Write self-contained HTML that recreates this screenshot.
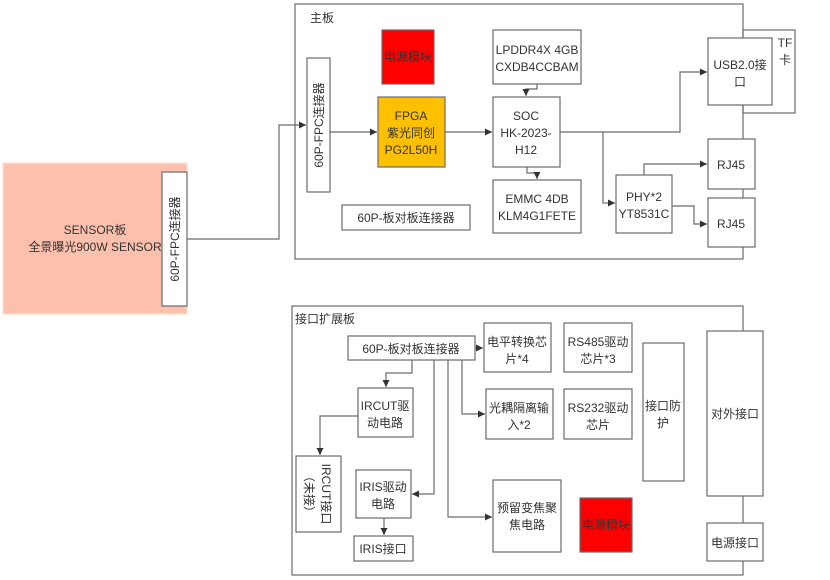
<!DOCTYPE html>
<html><head><meta charset="utf-8"><style>
html,body{margin:0;padding:0;background:#fff;width:830px;height:580px;overflow:hidden}
svg text{font-family:"Liberation Sans","Noto Sans CJK SC",sans-serif;font-size:12px;fill:#333}
</style></head><body>
<svg width="830" height="580" viewBox="0 0 830 580" xmlns="http://www.w3.org/2000/svg">
<defs><marker id="a" markerWidth="8" markerHeight="8" refX="7" refY="4" orient="auto" markerUnits="userSpaceOnUse"><path d="M0,0.5 L7,4 L0,7.5 z" fill="#333"/></marker></defs>
<g fill="none" stroke="#6b6b6b" stroke-width="1.2">
<!-- sensor -->
<rect x="3" y="163" width="184" height="151" fill="#fcc0ad" stroke="#fde0c8"/>
<rect x="162" y="172" width="25" height="134" fill="#fff"/>
<!-- main board -->
<rect x="295" y="4" width="448" height="255"/>
<rect x="743" y="30" width="52" height="83"/>
<rect x="708" y="38" width="64" height="67" fill="#fff"/>
<rect x="708" y="139" width="47" height="50" fill="#fff"/>
<rect x="708" y="198" width="47" height="49" fill="#fff"/>
<rect x="382" y="30" width="52" height="54" fill="#ff0000"/>
<rect x="378" y="97" width="67" height="70" fill="#ffc000"/>
<rect x="307" y="58" width="23" height="134" fill="#fff"/>
<rect x="493" y="97" width="67" height="70" fill="#fff"/>
<rect x="493" y="30" width="88" height="54" fill="#fff"/>
<rect x="493" y="180" width="88" height="53" fill="#fff"/>
<rect x="616" y="175" width="56" height="58" fill="#fff"/>
<rect x="342" y="205" width="128" height="25" fill="#fff"/>
<!-- lines main -->
<path d="M187,239 H279 V125 H306" marker-end="url(#a)"/>
<path d="M330,132 H377" marker-end="url(#a)"/>
<path d="M445,132 H492" marker-end="url(#a)"/>
<path d="M560,132 H680 V72 H707" marker-end="url(#a)"/>
<path d="M603,132 V203 H615" marker-end="url(#a)"/>
<path d="M644,175 V164 H707" marker-end="url(#a)"/>
<path d="M672,206 H694 V224 H707" marker-end="url(#a)"/>
<path d="M537,84 V89 H526 V96" marker-end="url(#a)"/>
<path d="M527,167 V173 H537 V179" marker-end="url(#a)"/>
<!-- bottom board -->
<rect x="292" y="306" width="451" height="269"/>
<rect x="348" y="336" width="127" height="24" fill="#fff"/>
<rect x="484" y="323" width="67" height="49" fill="#fff"/>
<rect x="564" y="323" width="68" height="49" fill="#fff"/>
<rect x="486" y="389" width="67" height="50" fill="#fff"/>
<rect x="564" y="389" width="68" height="50" fill="#fff"/>
<rect x="643" y="343" width="41" height="138" fill="#fff"/>
<rect x="707" y="331" width="56" height="165" fill="#fff"/>
<rect x="707" y="523" width="56" height="38" fill="#fff"/>
<rect x="358" y="388" width="55" height="49" fill="#fff"/>
<rect x="296" y="456" width="45" height="76" fill="#fff"/>
<rect x="356" y="470" width="55" height="48" fill="#fff"/>
<rect x="354" y="536" width="59" height="25" fill="#fff"/>
<rect x="493" y="480" width="68" height="72" fill="#fff"/>
<rect x="580" y="498" width="52" height="54" fill="#ff0000"/>
<path d="M475,348 H483" marker-end="url(#a)"/>
<path d="M412,360 V373 H386 V387" marker-end="url(#a)"/>
<path d="M434,360 V494 H412" marker-end="url(#a)"/>
<path d="M448,360 V517 H492" marker-end="url(#a)"/>
<path d="M462,360 V414 H485" marker-end="url(#a)"/>
<path d="M358,416 H320 V455" marker-end="url(#a)"/>
<path d="M384,518 V535" marker-end="url(#a)"/>
</g>
<g text-anchor="middle">
<text x="95" y="234">SENSOR板</text>
<text x="95" y="251">全景曝光900W SENSOR</text>
<text transform="translate(179,239) rotate(-90)">60P-FPC连接器</text>
<text transform="translate(323,125) rotate(-90)">60P-FPC连接器</text>
<text x="310" y="22" text-anchor="start">主板</text>
<text x="408" y="61">电源模块</text>
<text x="411" y="120">FPGA</text>
<text x="411" y="137">紫光同创</text>
<text x="411" y="154">PG2L50H</text>
<text x="537" y="54">LPDDR4X 4GB</text>
<text x="537" y="71">CXDB4CCBAM</text>
<text x="526" y="120">SOC</text>
<text x="526" y="137">HK-2023-</text>
<text x="526" y="154">H12</text>
<text x="537" y="203">EMMC 4DB</text>
<text x="537" y="220">KLM4G1FETE</text>
<text x="644" y="201">PHY*2</text>
<text x="644" y="218">YT8531C</text>
<text x="406" y="222">60P-板对板连接器</text>
<text x="740" y="69">USB2.0接</text>
<text x="740" y="86">口</text>
<text x="785" y="47">TF</text>
<text x="785" y="64">卡</text>
<text x="731" y="169">RJ45</text>
<text x="731" y="228">RJ45</text>
<text x="295" y="323" text-anchor="start">接口扩展板</text>
<text x="411" y="353">60P-板对板连接器</text>
<text x="517" y="346">电平转换芯</text>
<text x="517" y="363">片*4</text>
<text x="598" y="346">RS485驱动</text>
<text x="598" y="363">芯片*3</text>
<text x="519" y="412">光耦隔离输</text>
<text x="519" y="429">入*2</text>
<text x="598" y="412">RS232驱动</text>
<text x="598" y="429">芯片</text>
<text x="663" y="410">接口防</text>
<text x="663" y="427">护</text>
<text x="735" y="418">对外接口</text>
<text x="735" y="547">电源接口</text>
<text x="385" y="410">IRCUT驱</text>
<text x="385" y="427">动电路</text>
<text x="383" y="491">IRIS驱动</text>
<text x="383" y="508">电路</text>
<text x="383" y="553">IRIS接口</text>
<text x="527" y="512">预留变焦聚</text>
<text x="527" y="529">焦电路</text>
<text x="606" y="529">电源模块</text>
<text transform="translate(322,494) rotate(90)">IRCUT接口</text>
<text transform="translate(305,494) rotate(90)">（未接）</text>
</g>
</svg>
</body></html>
